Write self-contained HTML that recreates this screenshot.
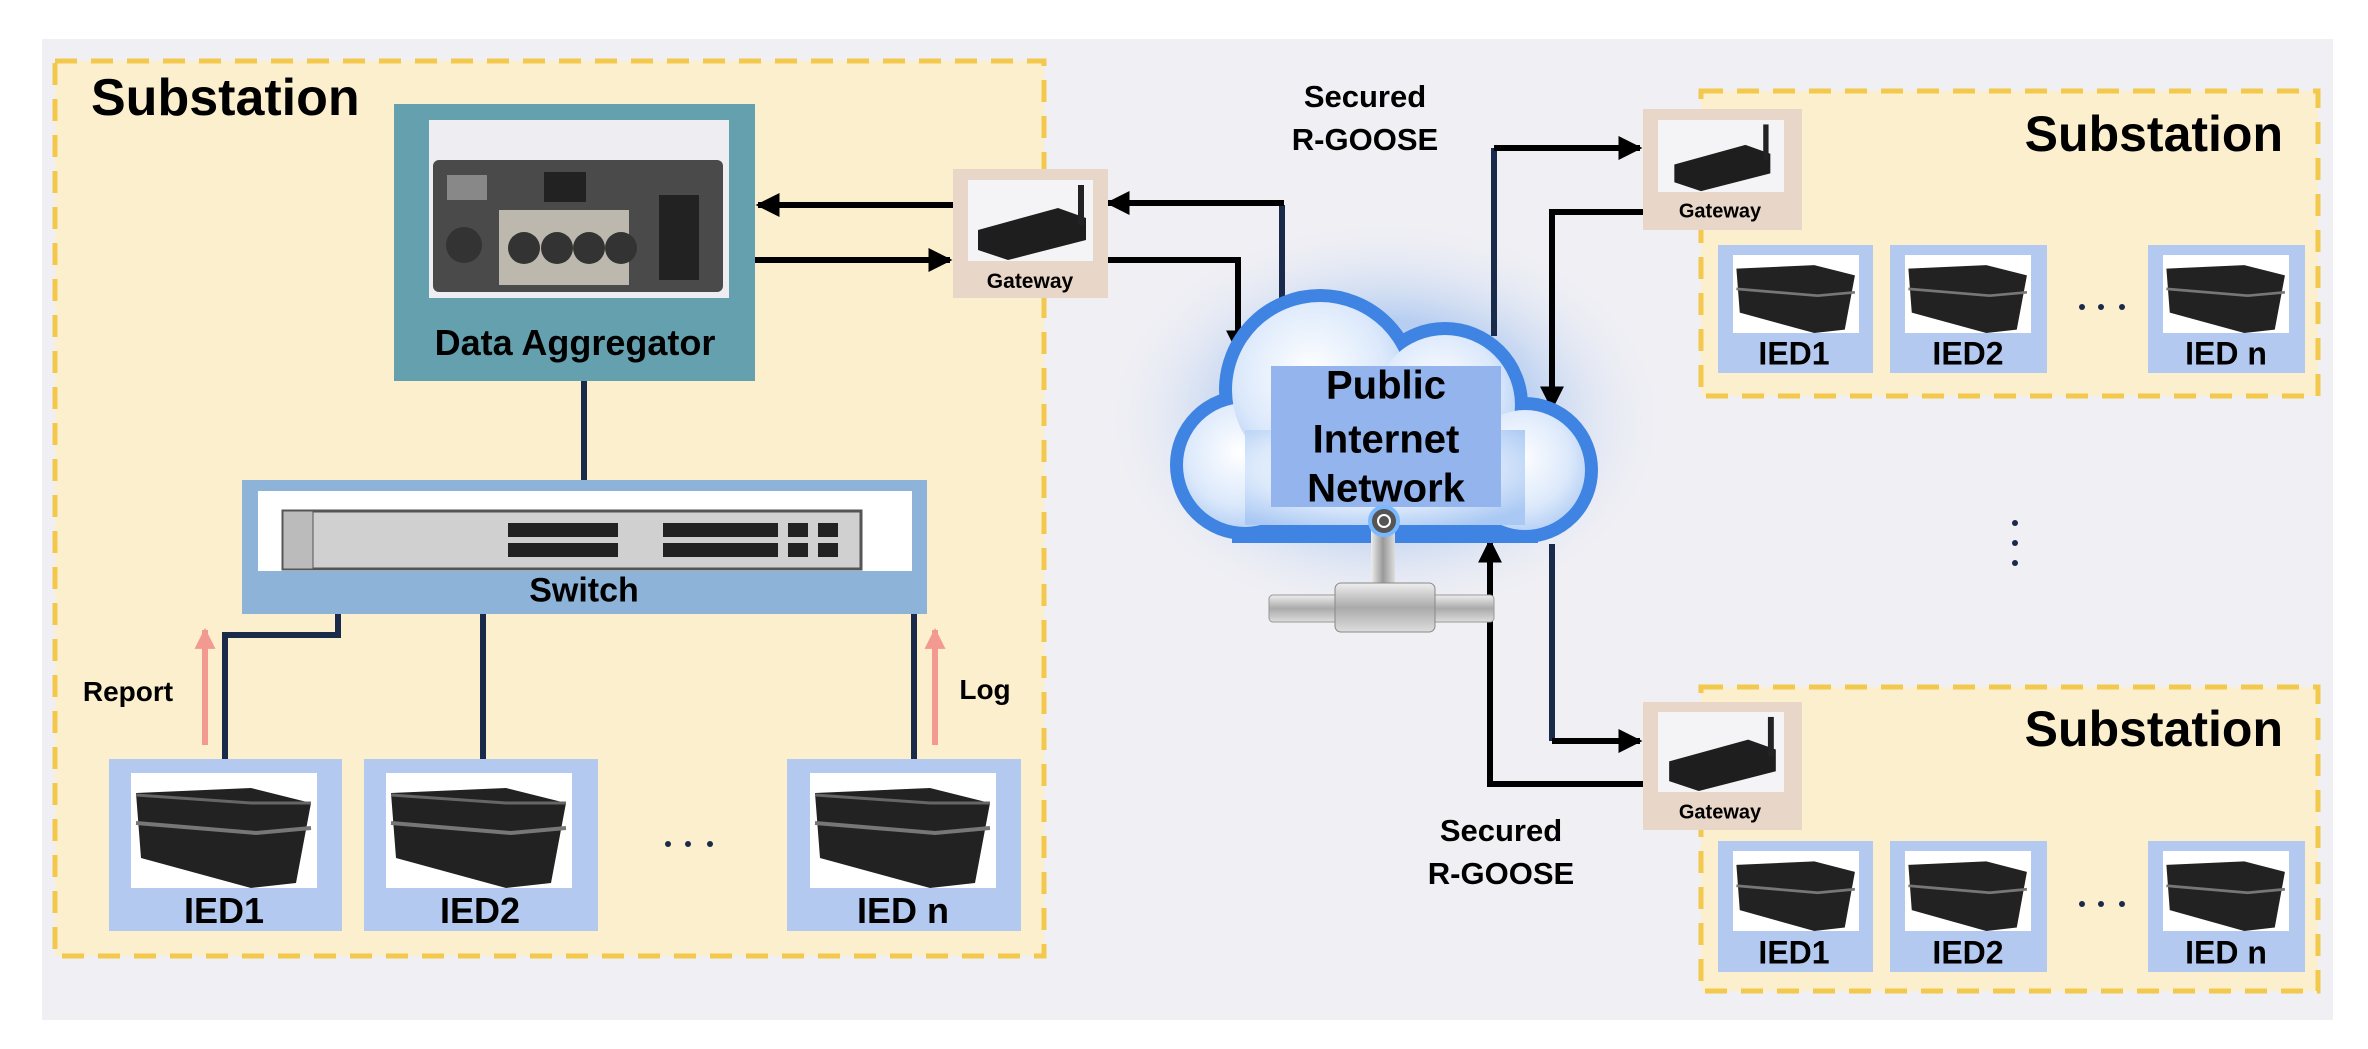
<!DOCTYPE html>
<html><head><meta charset="utf-8"><style>
html,body{margin:0;padding:0;background:#fff}
body{width:2368px;height:1049px;position:relative;overflow:hidden;font-family:"Liberation Sans",sans-serif;font-weight:bold;color:#000}
.a{position:absolute;box-sizing:border-box}
.t{position:absolute;white-space:nowrap;transform:translate(-50%,-50%);font-weight:bold}
.ied{background:#b4c9ef}
.img{position:absolute;background:#fff}
.gw{background:#e8d6c9}
</style></head><body>
<div class="a" style="left:42px;top:39px;width:2291px;height:981px;background:#efeff4"></div>
<svg class="a" style="left:0;top:0" width="2368" height="1049" viewBox="0 0 2368 1049">
<g fill="#fcefce" stroke="#f2c94c" stroke-width="5" stroke-dasharray="22 14">
<rect x="55" y="61" width="989" height="895"/>
<rect x="1701" y="91" width="617" height="305"/>
<rect x="1701" y="687" width="617" height="304"/>
</g>
</svg>

<svg class="a" style="left:0;top:0" width="2368" height="1049" viewBox="0 0 2368 1049">
<defs>
<marker id="ar" viewBox="0 0 10 10" refX="9" refY="5" markerWidth="4" markerHeight="4" orient="auto"><path d="M0,0L10,5L0,10z" fill="#000"/></marker>
<marker id="pk" viewBox="0 0 10 10" refX="9" refY="5" markerWidth="3.5" markerHeight="3.5" orient="auto"><path d="M0,0L10,5L0,10z" fill="#f29a92"/></marker>
<radialGradient id="cg" cx="0.45" cy="0.4" r="0.7"><stop offset="0" stop-color="#ffffff"/><stop offset="0.6" stop-color="#dce9fb"/><stop offset="1" stop-color="#a9c8f3"/></radialGradient>
<radialGradient id="glow" cx="0.5" cy="0.5" r="0.5"><stop offset="0.5" stop-color="#9fc0f0" stop-opacity="0.7"/><stop offset="1" stop-color="#efeff4" stop-opacity="0"/></radialGradient>
<linearGradient id="pipe" x1="0" y1="0" x2="0" y2="1"><stop offset="0" stop-color="#eee"/><stop offset="0.5" stop-color="#aaa"/><stop offset="1" stop-color="#ddd"/></linearGradient>
<linearGradient id="pipev" x1="0" y1="0" x2="1" y2="0"><stop offset="0" stop-color="#eee"/><stop offset="0.5" stop-color="#999"/><stop offset="1" stop-color="#ddd"/></linearGradient>
</defs>
<ellipse cx="1385" cy="420" rx="280" ry="200" fill="url(#glow)"/>
<g stroke="#1a2a4a" stroke-width="6" fill="none">
<line x1="584" y1="381" x2="584" y2="480"/>
<polyline points="338,614 338,635 225,635 225,759"/>
<line x1="483" y1="614" x2="483" y2="759"/>
<line x1="914" y1="614" x2="914" y2="759"/>
<line x1="1282" y1="205" x2="1282" y2="305"/>
<line x1="1494" y1="336" x2="1494" y2="148"/>
<line x1="1552" y1="544" x2="1552" y2="741"/>
</g>
<line x1="205" y1="745" x2="205" y2="630" stroke="#f29a92" stroke-width="6" marker-end="url(#pk)"/>
<line x1="935" y1="745" x2="935" y2="630" stroke="#f29a92" stroke-width="6" marker-end="url(#pk)"/>
<g stroke="#000" stroke-width="6" fill="none">
<line x1="953" y1="205" x2="758" y2="205" marker-end="url(#ar)"/>
<line x1="755" y1="260" x2="950" y2="260" marker-end="url(#ar)"/>
<polyline points="1284,203 1108,203" marker-end="url(#ar)"/>
<polyline points="1108,260 1238,260 1238,352" marker-end="url(#ar)"/>
<polyline points="1494,148 1640,148" marker-end="url(#ar)"/>
<polyline points="1643,212 1552,212 1552,408" marker-end="url(#ar)"/>
<polyline points="1552,741 1640,741" marker-end="url(#ar)"/>
<polyline points="1643,784 1490,784 1490,541" marker-end="url(#ar)"/>
</g>
<g fill="#3f84e2" stroke="#3f84e2" stroke-width="26">
<circle cx="1245" cy="465" r="62"/><circle cx="1320" cy="390" r="88"/><circle cx="1445" cy="405" r="70"/><circle cx="1525" cy="470" r="60"/><rect x="1245" y="430" width="280" height="100"/>
</g>
<g fill="url(#cg)">
<circle cx="1245" cy="465" r="62"/><circle cx="1320" cy="390" r="88"/><circle cx="1445" cy="405" r="70"/><circle cx="1525" cy="470" r="60"/><rect x="1245" y="430" width="280" height="95"/>
</g>
<rect x="1271" y="366" width="230" height="141" fill="#93b4ec"/>
<rect x="1371" y="530" width="24" height="62" fill="url(#pipev)"/>
<rect x="1269" y="595" width="225" height="27" rx="4" fill="url(#pipe)" stroke="#999"/>
<rect x="1335" y="583" width="100" height="49" rx="6" fill="url(#pipe)" stroke="#888"/>
<circle cx="1384" cy="521" r="14" fill="#555" stroke="#7ab8ff" stroke-width="4"/>
<circle cx="1384" cy="521" r="6" fill="none" stroke="#fff" stroke-width="2"/>
<g fill="#1a2a4a">
<circle cx="668" cy="844" r="3"/><circle cx="688" cy="844" r="3"/><circle cx="710" cy="844" r="3"/>
<circle cx="2082" cy="307" r="3"/><circle cx="2101" cy="307" r="3"/><circle cx="2122" cy="307" r="3"/>
<circle cx="2082" cy="904" r="3"/><circle cx="2101" cy="904" r="3"/><circle cx="2122" cy="904" r="3"/>
<circle cx="2015" cy="523" r="3"/><circle cx="2015" cy="543" r="3"/><circle cx="2015" cy="563" r="3"/>
</g>
</svg>

<div class="a" style="left:394px;top:104px;width:361px;height:277px;background:#64a0ae"></div>
<div class="img" style="left:429px;top:120px;width:300px;height:178px;background:#eeeef2">
<svg width="300" height="178" viewBox="0 0 300 178"><rect x="4" y="40" width="290" height="132" rx="6" fill="#4a4a4a"/><rect x="70" y="90" width="130" height="75" fill="#bdb8ae"/><g fill="#333"><circle cx="95" cy="128" r="16"/><circle cx="128" cy="128" r="16"/><circle cx="160" cy="128" r="16"/><circle cx="192" cy="128" r="16"/><circle cx="35" cy="125" r="18"/></g><rect x="230" y="75" width="40" height="85" fill="#222"/><rect x="18" y="55" width="40" height="25" fill="#888"/><rect x="115" y="52" width="42" height="30" fill="#222"/></svg></div>
<div class="t" style="left:575px;top:343px;font-size:36px">Data Aggregator</div>

<div class="a" style="left:242px;top:480px;width:685px;height:134px;background:#8db3d9"></div>
<div class="img" style="left:258px;top:491px;width:654px;height:80px">
<svg width="654" height="80" viewBox="0 0 654 80"><rect x="25" y="20" width="578" height="58" fill="#d0d0d0" stroke="#555" stroke-width="3"/><rect x="25" y="20" width="30" height="58" fill="#bbb" stroke="#555"/><g fill="#222"><rect x="250" y="32" width="110" height="14"/><rect x="250" y="52" width="110" height="14"/><rect x="405" y="32" width="115" height="14"/><rect x="405" y="52" width="115" height="14"/><rect x="530" y="32" width="20" height="14"/><rect x="560" y="32" width="20" height="14"/><rect x="530" y="52" width="20" height="14"/><rect x="560" y="52" width="20" height="14"/></g></svg></div>
<div class="t" style="left:584px;top:591px;font-size:34px">Switch</div>

<div class="t" style="left:128px;top:692px;font-size:28px">Report</div>
<div class="t" style="left:985px;top:690px;font-size:28px">Log</div>

<div class="a ied" style="left:109px;top:759px;width:233px;height:172px"></div>
<div class="a ied" style="left:364px;top:759px;width:234px;height:172px"></div>
<div class="a ied" style="left:787px;top:759px;width:234px;height:172px"></div>
<div class="img" style="left:131px;top:773px;width:186px;height:115px"><svg width="100%" height="100%" viewBox="0 0 186 115" preserveAspectRatio="none"><path d="M5 20L120 15L180 30L165 110L120 115L10 85Z" fill="#222"/><path d="M5 50L125 60L180 55" stroke="#777" stroke-width="4" fill="none"/><path d="M5 22L120 30L180 30" stroke="#666" stroke-width="3" fill="none"/></svg></div>
<div class="img" style="left:386px;top:773px;width:186px;height:115px"><svg width="100%" height="100%" viewBox="0 0 186 115" preserveAspectRatio="none"><path d="M5 20L120 15L180 30L165 110L120 115L10 85Z" fill="#222"/><path d="M5 50L125 60L180 55" stroke="#777" stroke-width="4" fill="none"/><path d="M5 22L120 30L180 30" stroke="#666" stroke-width="3" fill="none"/></svg></div>
<div class="img" style="left:810px;top:773px;width:186px;height:115px"><svg width="100%" height="100%" viewBox="0 0 186 115" preserveAspectRatio="none"><path d="M5 20L120 15L180 30L165 110L120 115L10 85Z" fill="#222"/><path d="M5 50L125 60L180 55" stroke="#777" stroke-width="4" fill="none"/><path d="M5 22L120 30L180 30" stroke="#666" stroke-width="3" fill="none"/></svg></div>
<div class="t" style="left:224px;top:911px;font-size:36px">IED1</div>
<div class="t" style="left:480px;top:911px;font-size:36px">IED2</div>
<div class="t" style="left:903px;top:911px;font-size:36px">IED n</div>

<div class="t" style="left:91px;top:98px;transform:translate(0,-50%);font-size:52px">Substation</div>

<div class="a gw" style="left:953px;top:169px;width:155px;height:129px"></div>
<div class="img" style="left:968px;top:180px;width:125px;height:81px;background:#f4f4f6"><svg width="125" height="81" viewBox="0 0 125 81"><path d="M10 50L90 28L118 38L118 60L40 80L10 70Z" fill="#1e1e1e"/><rect x="110" y="5" width="6" height="40" fill="#222"/></svg></div>
<div class="t" style="left:1030px;top:282px;font-size:21px">Gateway</div>

<div class="t" style="left:1386px;top:386px;font-size:40px">Public</div>
<div class="t" style="left:1386px;top:440px;font-size:40px">Internet</div>
<div class="t" style="left:1386px;top:489px;font-size:40px">Network</div>

<div class="t" style="left:1365px;top:97px;font-size:31px">Secured</div>
<div class="t" style="left:1365px;top:140px;font-size:31px">R-GOOSE</div>
<div class="t" style="left:1501px;top:831px;font-size:31px">Secured</div>
<div class="t" style="left:1501px;top:874px;font-size:31px">R-GOOSE</div>

<div class="a gw" style="left:1643px;top:109px;width:159px;height:121px"></div>
<div class="img" style="left:1658px;top:120px;width:126px;height:72px;background:#f4f4f6"><svg width="126" height="72" viewBox="0 0 125 81"><path d="M10 50L90 28L118 38L118 60L40 80L10 70Z" fill="#1e1e1e"/><rect x="110" y="5" width="6" height="40" fill="#222"/></svg></div>
<div class="t" style="left:1720px;top:212px;font-size:20px">Gateway</div>
<div class="a gw" style="left:1643px;top:702px;width:159px;height:128px"></div>
<div class="img" style="left:1658px;top:712px;width:126px;height:80px;background:#f4f4f6"><svg width="126" height="80" viewBox="0 0 125 81"><path d="M10 50L90 28L118 38L118 60L40 80L10 70Z" fill="#1e1e1e"/><rect x="110" y="5" width="6" height="40" fill="#222"/></svg></div>
<div class="t" style="left:1720px;top:813px;font-size:20px">Gateway</div>

<div class="t" style="left:2283px;top:134px;transform:translate(-100%,-50%);font-size:50px">Substation</div>
<div class="t" style="left:2283px;top:729px;transform:translate(-100%,-50%);font-size:50px">Substation</div>

<div class="a ied" style="left:1718px;top:245px;width:155px;height:128px"></div>
<div class="a ied" style="left:1890px;top:245px;width:157px;height:128px"></div>
<div class="a ied" style="left:2148px;top:245px;width:157px;height:128px"></div>
<div class="a ied" style="left:1718px;top:841px;width:155px;height:131px"></div>
<div class="a ied" style="left:1890px;top:841px;width:157px;height:131px"></div>
<div class="a ied" style="left:2148px;top:841px;width:157px;height:131px"></div>
<div class="img" style="left:1733px;top:255px;width:126px;height:78px"><svg width="100%" height="100%" viewBox="0 0 186 115" preserveAspectRatio="none"><path d="M5 20L120 15L180 30L165 110L120 115L10 85Z" fill="#222"/><path d="M5 50L125 60L180 55" stroke="#777" stroke-width="4" fill="none"/></svg></div>
<div class="img" style="left:1905px;top:255px;width:126px;height:78px"><svg width="100%" height="100%" viewBox="0 0 186 115" preserveAspectRatio="none"><path d="M5 20L120 15L180 30L165 110L120 115L10 85Z" fill="#222"/><path d="M5 50L125 60L180 55" stroke="#777" stroke-width="4" fill="none"/></svg></div>
<div class="img" style="left:2163px;top:255px;width:126px;height:78px"><svg width="100%" height="100%" viewBox="0 0 186 115" preserveAspectRatio="none"><path d="M5 20L120 15L180 30L165 110L120 115L10 85Z" fill="#222"/><path d="M5 50L125 60L180 55" stroke="#777" stroke-width="4" fill="none"/></svg></div>
<div class="img" style="left:1733px;top:851px;width:126px;height:80px"><svg width="100%" height="100%" viewBox="0 0 186 115" preserveAspectRatio="none"><path d="M5 20L120 15L180 30L165 110L120 115L10 85Z" fill="#222"/><path d="M5 50L125 60L180 55" stroke="#777" stroke-width="4" fill="none"/></svg></div>
<div class="img" style="left:1905px;top:851px;width:126px;height:80px"><svg width="100%" height="100%" viewBox="0 0 186 115" preserveAspectRatio="none"><path d="M5 20L120 15L180 30L165 110L120 115L10 85Z" fill="#222"/><path d="M5 50L125 60L180 55" stroke="#777" stroke-width="4" fill="none"/></svg></div>
<div class="img" style="left:2163px;top:851px;width:126px;height:80px"><svg width="100%" height="100%" viewBox="0 0 186 115" preserveAspectRatio="none"><path d="M5 20L120 15L180 30L165 110L120 115L10 85Z" fill="#222"/><path d="M5 50L125 60L180 55" stroke="#777" stroke-width="4" fill="none"/></svg></div>
<div class="t" style="left:1794px;top:354px;font-size:32px">IED1</div>
<div class="t" style="left:1968px;top:354px;font-size:32px">IED2</div>
<div class="t" style="left:2226px;top:354px;font-size:32px">IED n</div>
<div class="t" style="left:1794px;top:953px;font-size:32px">IED1</div>
<div class="t" style="left:1968px;top:953px;font-size:32px">IED2</div>
<div class="t" style="left:2226px;top:953px;font-size:32px">IED n</div>
</body></html>
